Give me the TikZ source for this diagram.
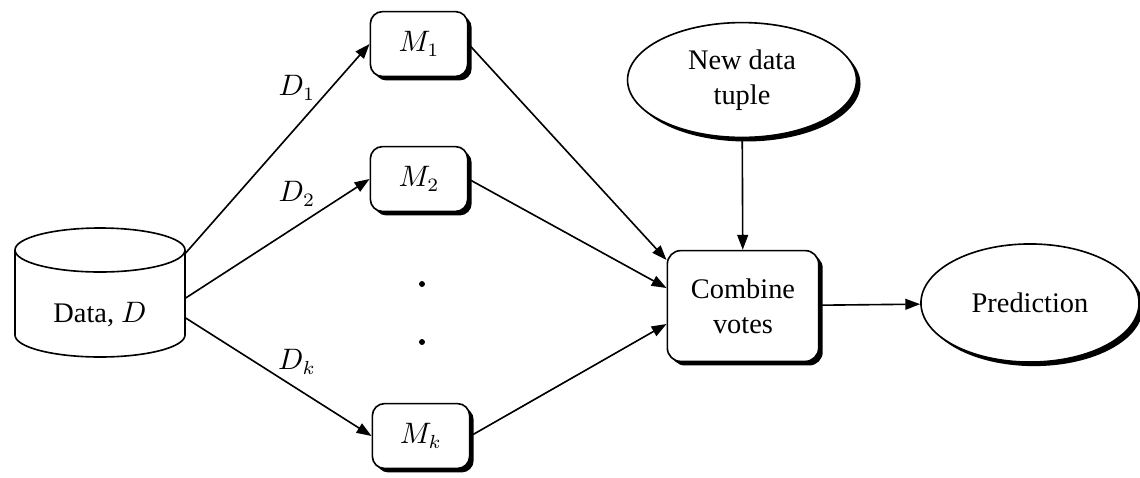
\documentclass[tikz,border=0pt]{standalone}
\usepackage{fontspec}
\setmainfont{Liberation Serif}
\usetikzlibrary{positioning,calc,arrows.meta,shapes.geometric,shadows}

\begin{document}
\begin{tikzpicture}[x=0.37pt,y=0.37pt,
  font=\fontsize{10.5}{13}\selectfont,
  shadowed/.style={drop shadow={shadow xshift=1.5pt,shadow yshift=-1.5pt,opacity=1,fill=black}},
  store/.style={minimum width=63pt,minimum height=48pt,inner sep=0pt},
  model/.style={draw,fill=white,rounded corners=4.5pt,line width=0.6pt,shadowed,
    minimum width=36pt,minimum height=24pt,inner sep=0pt},
  vote/.style={draw,fill=white,rounded corners=5pt,line width=0.6pt,shadowed,
    align=center,minimum width=56pt,minimum height=41pt,inner sep=0pt},
  blob/.style={ellipse,draw,fill=white,line width=0.6pt,shadowed,align=center,inner sep=0pt},
  gapdot/.style={circle,fill,inner sep=0pt,minimum size=2.2pt},
  flow/.style={-{Triangle[length=5.5pt,width=4pt]},line width=0.6pt}]
  \useasboundingbox (0,0) rectangle (1140,-477);
  \node[store] (data) at (100,-292) {};
  % the drum of the data store
  \begin{scope}[shift={(data.center)},line width=0.6pt]
    \draw (0,42) ellipse [x radius=85,y radius=22];
    \draw (-85,42) -- (-85,-43) arc[start angle=180,end angle=360,x radius=85,y radius=22] -- (85,42);
  \end{scope}
  \node (datatxt) at (100,-315) {Data, $D$};
  \node[model] (m1) at (419,-44)  {$M_1$};
  \node[model] (m2) at (419,-179) {$M_2$};
  \node[model] (mk) at (421,-436) {$M_k$};
  \node[gapdot] (gap1) at (422,-284) {};
  \node[gapdot] (gap2) at (422,-342) {};
  \node[vote] (comb) at (743,-306) {Combine\\votes};
  \node[blob,minimum width=84.7pt,minimum height=42.5pt] (tuple) at (742,-80) {New data\\tuple};
  \node[blob,minimum width=80.7pt,minimum height=43.7pt] (pred) at (1030,-303) {Prediction};
  % samples drawn from D
  \draw[flow] ($(data.east)+(0,39)$) -- (m1.west);
  \draw[flow] ($(data.east)+(0,-6)$)  -- (m2.west);
  \draw[flow] ($(data.east)+(0,-26)$) -- (mk.west);
  \node at (297,-88)  {$D_1$};
  \node at (297,-194) {$D_2$};
  \node at (297,-362) {$D_k$};
  % votes
  \draw[flow] (m1.east) -- ($(comb.west)+(0,46)$);
  \draw[flow] (m2.east) -- ($(comb.west)+(0,18)$);
  \draw[flow] (mk.east) -- ($(comb.west)+(0,-18)$);
  \draw[flow] (tuple) -- (comb);
  \draw[flow] (comb) -- (pred);
\end{tikzpicture}
\end{document}
